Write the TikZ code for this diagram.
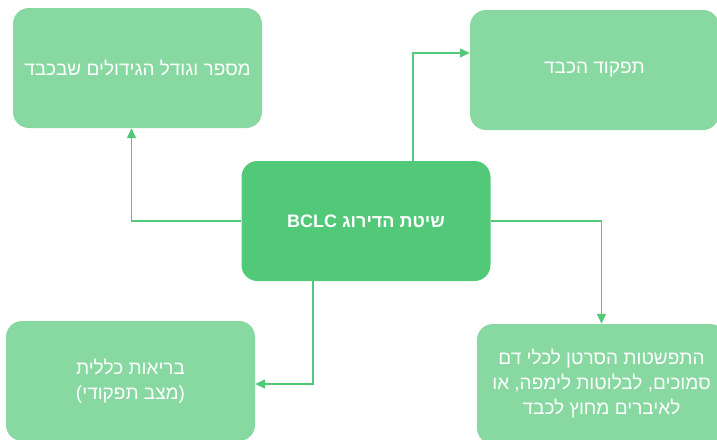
\documentclass[tikz,border=0pt]{standalone}
\usepackage{fontspec}
\setmainfont{Liberation Sans}
\newfontfamily\hebfont[Script=Hebrew]{Liberation Sans}
\TeXXeTstate=1
\usetikzlibrary{arrows.meta}
\definecolor{boxlight}{HTML}{88D8A1}
\definecolor{boxmid}{HTML}{52C879}
\tikzset{
  sidebox/.style={fill=boxlight, rounded corners=16pt, minimum width=249pt, minimum height=120pt,
    inner sep=0pt, text=white, align=center, font=\hebfont\fontsize{19}{25}\selectfont},
  hubbox/.style={sidebox, fill=boxmid, font=\hebfont\bfseries\fontsize{18}{25}\selectfont},
  link/.style={draw=boxmid, line width=1.4pt, -{Triangle[length=10pt,width=9pt]}}
}

\begin{document}
\begin{tikzpicture}[x=1pt,y=-1pt]
\useasboundingbox (0,0) rectangle (717,439);
% boxes
\node[hubbox] (bclc) at (366,221) {\beginR שיטת הדירוג \beginL BCLC\endL\endR};
\node[sidebox] (tumors) at (137.5,68) {\beginR מספר וגודל הגידולים שבכבד\endR};
\node[sidebox] (liverfn) at (594.5,70) {\beginR תפקוד הכבד\endR};
\node[sidebox] (health) at (130.5,381) {\beginR בריאות כללית\endR\\\beginR (מצב תפקודי)\endR};
\node[sidebox] (spread) at (601.5,384) {\beginR התפשטות הסרטן לכלי דם\endR\\\beginR סמוכים, לבלוטות לימפה, או\endR\\\beginR לאיברים מחוץ לכבד\endR};
% connectors
\draw[link] (bclc.west) -| ([xshift=-6pt]tumors.south);
\draw[link] ([xshift=47pt]bclc.north) |- ([yshift=17pt]liverfn.west);
\draw[link] (bclc.east) -| (spread.north);
\draw[link] ([xshift=-53pt]bclc.south) |- ([yshift=-3pt]health.east);
\end{tikzpicture}
\end{document}
